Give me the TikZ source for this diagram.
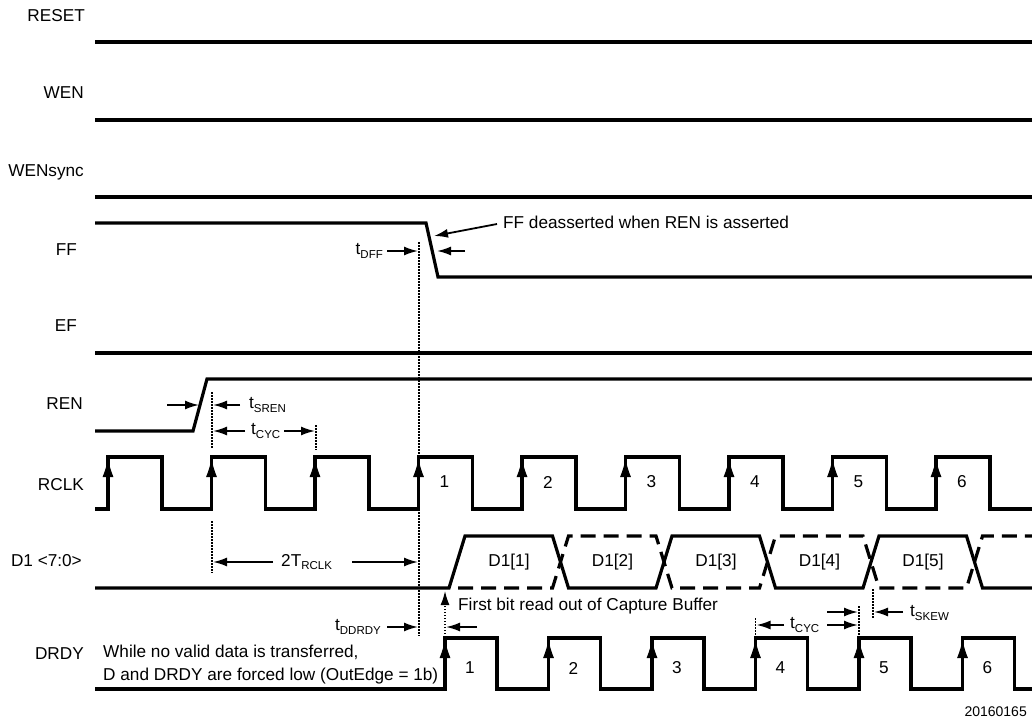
\documentclass[tikz,border=0pt]{standalone}
\usepackage{fontspec}
\setmainfont{Liberation Sans}
\usetikzlibrary{arrows.meta}
\newcommand{\tsub}[2]{#1\raisebox{-0.35ex}{\fontsize{11.5}{12}\selectfont #2}}
\tikzset{
    every node/.style={font=\fontsize{17.2}{23.5}\selectfont, inner sep=0pt}
}
\tikzset{
    sig/.style={line width=3.2pt},
    dashsig/.style={line width=3.2pt, dash pattern=on 15pt off 8pt},
    guide/.style={line width=1.4pt, dash pattern=on 1.5pt off 1.5pt},
    tarrow/.style={line width=1.8pt, -{Latex[length=14pt,width=9pt]}},
    clkarrow/.style={line width=1pt, -{Latex[length=18pt,width=11pt]}},
    siglabel/.style={anchor=east}
}
\begin{document}
\begin{tikzpicture}[x=1pt,y=-1pt]
  \useasboundingbox (0,0) rectangle (1032,722);

  \node (reset) [siglabel] at (85,16) {RESET};
  \node (wen) [siglabel] at (84,93) {WEN};
  \node (wensync) [siglabel] at (84,172) {WENsync};
  \node (ff) [siglabel] at (77,250) {FF};
  \node (ef) [siglabel] at (77,326) {EF};
  \node (ren) [siglabel] at (83,404) {REN};
  \node (rclk) [siglabel] at (84,485) {RCLK};
  \node (d1) [siglabel] at (82,561) {D1 <7:0>};
  \node (drdy) [siglabel] at (84,654) {DRDY};

  \draw[sig] (95,42) -- (1032,42);
  \draw[sig] (95,120) -- (1032,120);
  \draw[sig] (95,197) -- (1032,197);
  \draw[sig] (95,223) -- (426,223) -- (438,277) -- (1032,277);
  \draw[sig] (95,353) -- (1032,353);
  \draw[sig] (95,431) -- (193,431) -- (207,379) -- (1032,379);

  % RCLK
  \draw[sig] (95,509) \foreach \k in {0,...,8} {
      -- ({108+103.5*\k},509) -- ({108+103.5*\k},457)
      -- ({162+103.5*\k},457) -- ({162+103.5*\k},509)} -- (1032,509);
  \foreach \k in {0,...,8}
    \draw[clkarrow] ({108+103.5*\k},495) -- ({108+103.5*\k},459);
  \foreach \n [evaluate=\n as \x using 444.5+103.5*(\n-1)] in {1,...,6}
    \node (clk\n) at (\x,482) {\n};

  % D1 <7:0>
  \draw[sig] (95,588) -- (449,588) -- (465,536) -- (552.5,536) -- (568.5,588)
    -- (656,588) -- (672,536) -- (759.5,536) -- (775.5,588) -- (863,588)
    -- (879,536) -- (966.5,536) -- (982.5,588) -- (1032,588);
  \draw[dashsig] (458,588) -- (552.5,588) -- (568.5,536) -- (656,536)
    -- (672,588) -- (759.5,588) -- (775.5,536) -- (863,536) -- (879,588)
    -- (966.5,588) -- (982.5,536) -- (1032,536);
  \foreach \n [evaluate=\n as \x using 509+103.5*(\n-1)] in {1,...,5}
    \node (byte\n) at (\x,562) {D1[\n]};

  % DRDY
  \draw[sig] (95,689) \foreach \k in {0,...,5} {
      -- ({445+103.5*\k},689) -- ({445+103.5*\k},638)
      -- ({497+103.5*\k},638) -- ({497+103.5*\k},689)} -- (1032,689);
  \foreach \k in {0,...,5}
    \draw[clkarrow] ({445+103.5*\k},675) -- ({445+103.5*\k},640);
  \foreach \n [evaluate=\n as \x using 470+103.5*(\n-1)] in {1,...,6}
    \node (rdy\n) at (\x,668) {\n};
  \node (idle) [anchor=west, align=left] at (103,664.5)
    {While no valid data is transferred,\\D and DRDY are forced low (OutEdge = 1b)};

  % FF / tDFF
  \node (ffnote) [anchor=west] at (503,222) {FF deasserted when REN is asserted};
  \draw[tarrow] ([xshift=-6pt,yshift=-2pt]ffnote.west) -- (434,236);
  \draw[guide] (419,242) -- (419,636);
  \node (tdff) [anchor=east] at (383,251) {\tsub{t}{DFF}};
  \draw[tarrow] (387,251) -- (418,251);
  \draw[tarrow] (465,251) -- (437,251);

  % tSREN / tCYC
  \draw[tarrow] (167,405) -- (199,405);
  \draw[guide] (212,392) -- (212,449);
  \draw[tarrow] (240,405) -- (213,405);
  \node (tsren) [anchor=west] at (249,405) {\tsub{t}{SREN}};
  \draw[tarrow] (245,431) -- (213,431);
  \node (tcyc) [anchor=west] at (251,431) {\tsub{t}{CYC}};
  \draw[guide] (316,425) -- (316,450);
  \draw[tarrow] (284,431) -- (315,431);

  % 2T_RCLK
  \draw[guide] (212,521) -- (212,573);
  \node (trclk) [anchor=west] at (281,562) {2\tsub{T}{RCLK}};
  \draw[tarrow] (273,562) -- (213,562);
  \draw[tarrow] (352,562) -- (418,562);

  % tDDRDY / first bit
  \node (tddrdy) [anchor=east] at (381,627) {\tsub{t}{DDRDY}};
  \draw[tarrow] (387,627) -- (418,627);
  \draw[tarrow] (477,627) -- (446,627);
  \draw[guide, -{Latex[length=14pt,width=9pt]}] (445,637) -- (445,591);
  \node (firstbit) [anchor=west] at (458,606) {First bit read out of Capture Buffer};

  % tCYC / tSKEW on DRDY
  \draw[guide] (755.5,618) -- (755.5,640);
  \draw[tarrow] (784,625) -- (756.5,625);
  \node (tcyc2) [anchor=west] at (790,625) {\tsub{t}{CYC}};
  \draw[tarrow] (827,625) -- (858,625);
  \draw[guide] (859,606) -- (859,640);
  \draw[tarrow] (827,612) -- (858,612);
  \draw[guide] (873,589) -- (873,618);
  \draw[tarrow] (903,612) -- (874,612);
  \node (tskew) [anchor=west] at (910,613) {\tsub{t}{SKEW}};

  \node (fig) [anchor=east, font=\fontsize{14}{16}\selectfont] at (1027,712) {20160165};
\end{tikzpicture}
\end{document}
